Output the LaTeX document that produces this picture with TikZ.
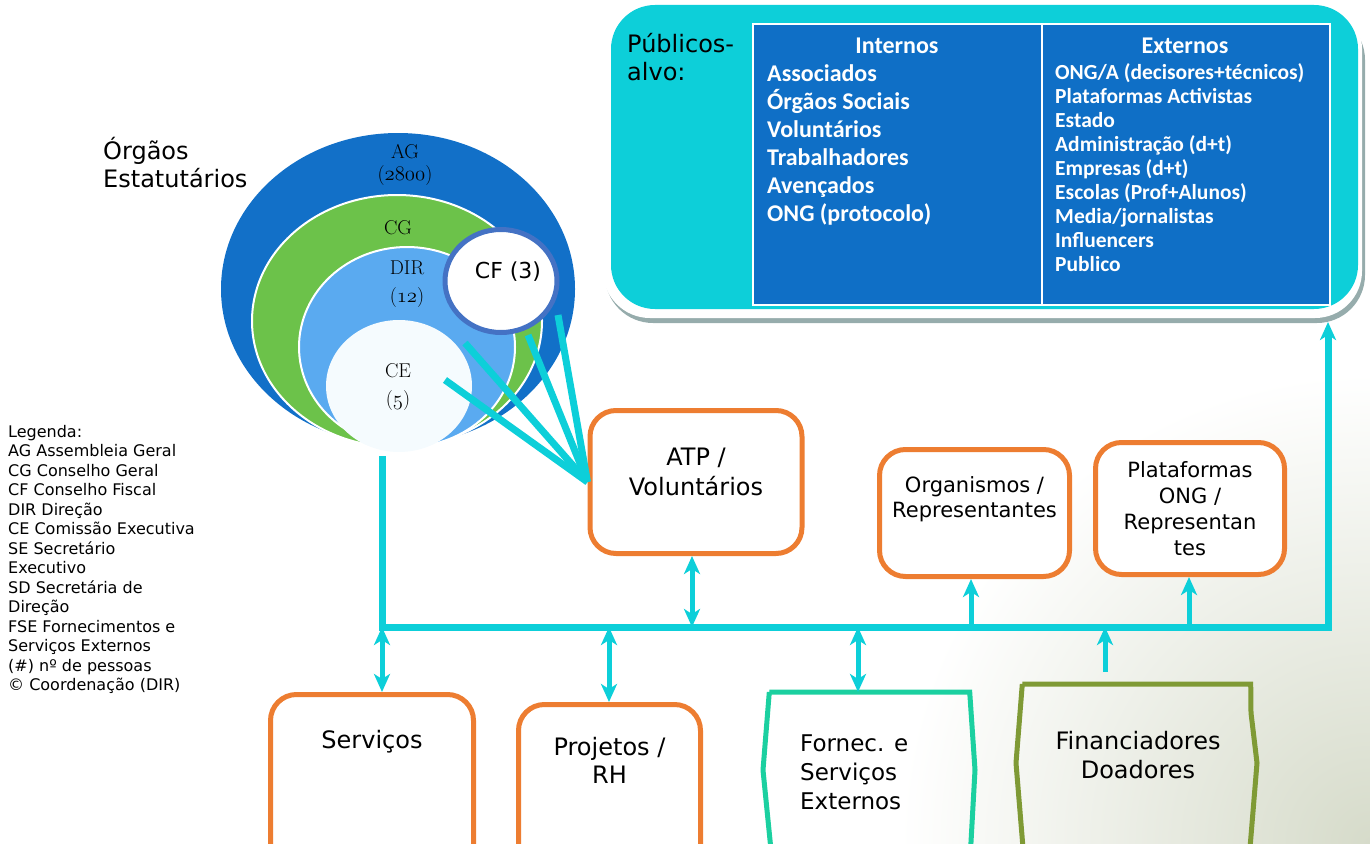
\documentclass[tikz,border=0pt]{standalone}
\usepackage{fontspec}
\setsansfont{DejaVu Sans}
\renewcommand{\familydefault}{\sfdefault}
\newfontfamily\calibri{Carlito}
\newcommand{\osnum}[1]{{\usefont{OML}{cmm}{m}{it}#1}}
\usetikzlibrary{arrows.meta,positioning,shapes.geometric}

\definecolor{linkcyan}{RGB}{13,207,217}
\definecolor{tableblue}{RGB}{15,111,198}
\definecolor{agblue}{RGB}{18,112,200}
\definecolor{cggreen}{RGB}{108,194,74}
\definecolor{dirblue}{RGB}{90,170,240}
\definecolor{cewhite}{RGB}{245,251,254}
\definecolor{cfblue}{RGB}{68,114,196}
\definecolor{boxorange}{RGB}{237,125,49}
\definecolor{fseteal}{RGB}{27,208,160}
\definecolor{finolive}{RGB}{127,154,53}
\definecolor{shadowgray}{RGB}{150,172,172}
\definecolor{bgtint}{RGB}{214,219,202}

\tikzset{
  orgbox/.style={draw=boxorange, line width=5pt, rounded corners=26pt, fill=white,
    align=center, inner sep=0pt, font=\fontsize{24}{30}\selectfont},
  ring/.style={ellipse, draw=white, line width=2pt, inner sep=0pt},
  circtxt/.style={font=\rmfamily\fontsize{20}{22}\selectfont, align=center},
  bus/.style={draw=linkcyan, line width=7pt},
  fan/.style={draw=linkcyan, line width=7pt},
  link/.style={draw=linkcyan, line width=5pt},
  uptip/.style={-{Stealth[length=18pt,width=16pt,inset=5pt]}},
  bothtips/.style={{Stealth[length=18pt,width=16pt,inset=5pt]}-{Stealth[length=18pt,width=16pt,inset=5pt]}},
  tablecol/.style={draw=white, line width=1.5pt, fill=tableblue, inner sep=0pt},
  tablehead/.style={text=white, font=\calibri\bfseries\fontsize{24}{28}\selectfont},
}

\begin{document}
\begin{tikzpicture}[x=1pt,y=-1pt]
\clip (0,0) rectangle (1370,843);
\shade[inner color=bgtint, outer color=white] (1370,843) circle [radius=470pt];

% publicos-alvo
\fill[shadowgray, rounded corners=48pt] (605,12) rectangle (1365,323);
\fill[white, rounded corners=47pt] (603,2) rectangle (1362,318);
\node[fill=linkcyan, rounded corners=44pt, minimum width=747pt, minimum height=304pt,
  inner sep=0pt] (pub) at (984.5,157) {};
\node[anchor=north west, align=left, inner sep=0pt, font=\fontsize{24}{28}\selectfont]
  (publbl) at (627,33) {Públicos-\\alvo:};
\node[tablecol, minimum width=289pt, minimum height=281pt] (intcol) at (897.5,164.5) {};
\node[tablecol, minimum width=288pt, minimum height=281pt] (extcol) at (1186,164.5) {};
\node[tablehead] (inthead) at (897,46) {Internos};
\node[tablehead] (exthead) at (1185,46) {Externos};
\node[anchor=north west, align=left, inner sep=0pt, text=white,
  font=\calibri\bfseries\fontsize{24}{28}\selectfont] (intlist) at (767,64)
  {Associados\\Órgãos Sociais\\Voluntários\\Trabalhadores\\Avençados\\ONG (protocolo)};
\node[anchor=north west, align=left, inner sep=0pt, text=white,
  font=\calibri\bfseries\fontsize{21.5}{24}\selectfont] (extlist) at (1055,63)
  {ONG/A (decisores+técnicos)\\Plataformas Activistas\\Estado\\Administração (d+t)\\
   Empresas (d+t)\\Escolas (Prof+Alunos)\\Media/jornalistas\\Influencers\\Publico};

% orgaos estatutarios
\node[anchor=north west, align=left, inner sep=0pt, font=\fontsize{24}{28}\selectfont]
  (orglbl) at (103,137) {Órgãos\\Estatutários};
\node[ring, fill=agblue, draw=none, minimum width=354pt, minimum height=312pt] (ag) at (398,289) {};
\node[ring, fill=cggreen, minimum width=290pt, minimum height=252pt] (cg) at (397,321) {};
\node[ring, fill=dirblue, minimum width=216pt, minimum height=200pt] (dir) at (407,347) {};
\node[ring, fill=cewhite, draw=none, minimum width=146pt, minimum height=132pt] (ce) at (399,386) {};
\node[ellipse, draw=cfblue, line width=5pt, fill=white, inner sep=0pt,
  minimum width=112pt, minimum height=103pt] (cf) at (501,281) {};
\node[circtxt] (aglbl) at (405,165) {AG\\(\osnum{2800})};
\node[circtxt] (cglbl) at (398,228) {CG};
\node[circtxt, font=\rmfamily\fontsize{20}{28}\selectfont] (dirlbl) at (407,284) {DIR\\(\osnum{12})};
\node[circtxt, font=\rmfamily\fontsize{20}{28}\selectfont] (celbl) at (398,387) {CE\\(\osnum{5})};
\node[font=\fontsize{22}{24}\selectfont] (cflbl) at (508,272) {CF (3)};

% legenda
\node[anchor=north west, align=left, inner sep=0pt, font=\fontsize{16}{19.5}\selectfont]
  (legend) at (8,425) {Legenda:\\AG Assembleia Geral\\CG Conselho Geral\\CF Conselho Fiscal\\
  DIR Direção\\CE Comissão Executiva\\SE Secretário\\Executivo\\SD Secretária de\\Direção\\
  FSE Fornecimentos e\\Serviços Externos\\(\#) nº de pessoas\\© Coordenação (DIR)};

% caixas
\node[orgbox, minimum width=212pt, minimum height=143pt,
  label={[font=\fontsize{24}{30}\selectfont, align=center, below=36pt]north:ATP /\\Voluntários}]
  (atp) at (696,482) {};
\node[orgbox, minimum width=190pt, minimum height=127pt, font=\fontsize{21}{25}\selectfont]
  (organismos) at (974.5,513) {Organismos /\\Representantes\\[6pt]};
\node[orgbox, minimum width=189pt, minimum height=132pt, font=\fontsize{21}{26}\selectfont]
  (plataformas) at (1190,508.5) {Plataformas\\ONG /\\Representan\\tes};
\node[orgbox, anchor=north, minimum width=203pt, minimum height=190pt,
  label={[font=\fontsize{24}{29}\selectfont, below=35pt]north:Serviços}] (servicos) at (372,692) {};
\node[orgbox, anchor=north, minimum width=182pt, minimum height=190pt,
  label={[font=\fontsize{24}{28}\selectfont, align=center, below=32pt]north:Projetos /\\RH}]
  (projetos) at (609.5,702) {};
\node[minimum width=200pt, minimum height=170pt, anchor=north, inner sep=0pt] (fse) at (869.5,692) {};
\draw[fseteal, line width=5pt] (fse.north west) -- (fse.north east) -- (975,770) -- (970,860)
  (fse.north west) -- (763,770) -- (772,860);
\node[anchor=north west, align=left, inner sep=0pt, font=\fontsize{23}{29}\selectfont]
  (fselbl) at (800,735) {Fornec. e\\Serviços\\Externos};
\node[minimum width=228pt, minimum height=170pt, anchor=north, inner sep=0pt] (fin) at (1136.5,684) {};
\draw[finolive, line width=5pt] (fin.north west) -- (fin.north east) -- (1251,713) -- (1257,763)
  -- (1249,860) (fin.north west) -- (1016,763) -- (1024,860);
\node[align=center, inner sep=0pt, font=\fontsize{24}{29}\selectfont] (finlbl) at (1138,755)
  {Financiadores\\Doadores};

% ligacoes
\coordinate (busstart) at (382,456);
\coordinate (busW) at (382,627);
\coordinate (busE) at (1328,627);
\coordinate (pubfoot) at (1328,322);
\draw[bus, uptip] (busstart) -- (busW) -- (busE) -- (pubfoot);

\coordinate (fanA) at (445,380);
\coordinate (fanB) at (465,343);
\coordinate (fanC) at (528,335);
\coordinate (fanD) at (558,315);
\foreach \p in {fanA,fanB,fanC,fanD}
  \draw[fan] (\p) -- (atp.west);

\draw[link, bothtips] (atp.south -| 692,0) -- (692,627);
\draw[link, uptip] (971,627) -- (organismos.south -| 971,0);
\draw[link, uptip] (1189,627) -- (plataformas.south -| 1189,0);
\draw[link, bothtips] (busW) -- (servicos.north -| busW);
\draw[link, bothtips] (609,627) -- (projetos.north -| 609,0);
\draw[link, bothtips] (858,627) -- (fse.north -| 858,0);
\draw[link, uptip] (1105,672) -- (1105,627);
\end{tikzpicture}
\end{document}
